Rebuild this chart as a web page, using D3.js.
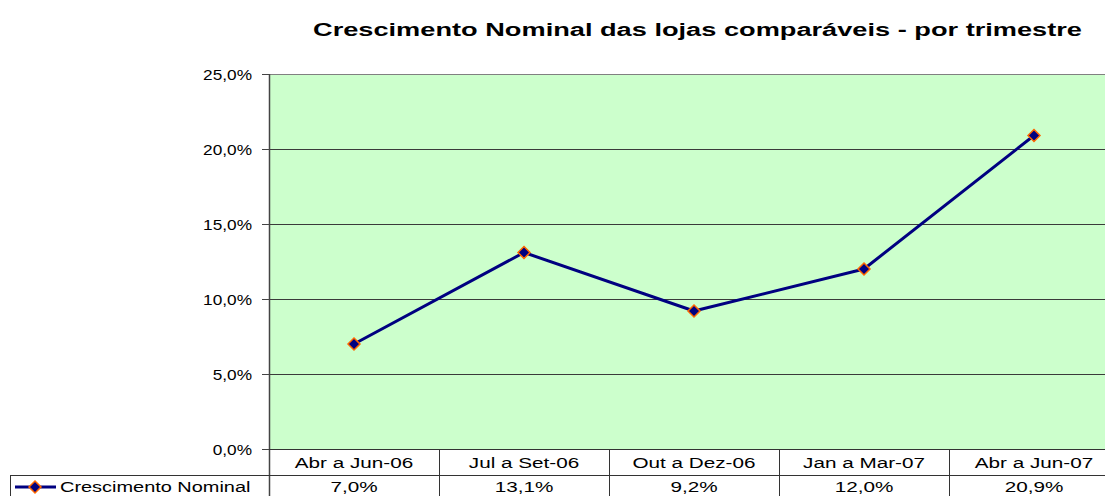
<!DOCTYPE html>
<html>
<head>
<meta charset="utf-8">
<script src="https://cdn.jsdelivr.net/npm/d3@7"></script>
<style>
  body { margin: 0; background: #fff; }
  svg { display: block; font-family: "Liberation Sans", Arial, sans-serif; }
</style>
</head>
<body>
<svg id="chart"></svg>
<script>
// Crescimento nominal das lojas comparáveis, por trimestre

const titleText = "Crescimento Nominal das lojas comparáveis - por trimestre";
const seriesName = "Crescimento Nominal";
const categories = ["Abr a Jun-06", "Jul a Set-06", "Out a Dez-06", "Jan a Mar-07", "Abr a Jun-07"];
const values = [7.0, 13.1, 9.2, 12.0, 20.9];
const yTicks = [0, 5, 10, 15, 20, 25];

const width = 1105;
const height = 496;

const plot = { left: 269, top: 74, bottom: 449, colW: 170 };
const rowMid = 475;   // linha entre categorias e valores

const svg = d3.select("#chart")
  .attr("width", width)
  .attr("height", height);

const x = d3.scaleBand()
  .domain(categories)
  .range([plot.left, plot.left + categories.length * plot.colW])
  .padding(0);

const y = d3.scaleLinear()
  .domain([0, 25])
  .range([plot.bottom, plot.top]);

const pct = function (v) { return d3.format(".1f")(v).replace(".", ",") + "%"; };

// texto esticado na horizontal, como no original
function stretchedText(g, tx, ty, str, k, anchor, size, weight) {
  return g.append("text")
    .attr("transform", "translate(" + tx + "," + ty + ") scale(" + k + ",1)")
    .attr("text-anchor", anchor)
    .attr("font-size", size)
    .attr("font-weight", weight || "normal")
    .attr("fill", "#000")
    .text(str);
}

// fundo da área do gráfico
svg.append("rect")
  .attr("x", plot.left)
  .attr("y", plot.top)
  .attr("width", width - plot.left)
  .attr("height", plot.bottom - plot.top)
  .attr("fill", "#ccffcc");

// linhas de grade
svg.append("g")
  .selectAll("line")
  .data(yTicks.filter(function (d) { return d > 0; }))
  .enter()
  .append("line")
  .attr("x1", plot.left)
  .attr("x2", width)
  .attr("y1", function (d) { return Math.round(y(d)) + 0.5; })
  .attr("y2", function (d) { return Math.round(y(d)) + 0.5; })
  .attr("stroke", function (d) { return d === 25 ? "#808080" : "#3a3a3a"; })
  .attr("stroke-width", 1);

// eixo Y
const yAxis = svg.append("g");
yAxis.append("line")
  .attr("x1", plot.left + 0.5).attr("x2", plot.left + 0.5)
  .attr("y1", plot.top).attr("y2", height)
  .attr("stroke", "#444").attr("stroke-width", 1.5);

yTicks.forEach(function (t) {
  const ty = Math.round(y(t)) + 0.5;
  yAxis.append("line")
    .attr("x1", plot.left - 7).attr("x2", plot.left)
    .attr("y1", ty).attr("y2", ty)
    .attr("stroke", "#444");
  stretchedText(yAxis, plot.left - 17, ty + 5, pct(t), 1.15, "end", 15);
});

// tabela de dados
const table = svg.append("g").attr("stroke", "#333").attr("stroke-width", 1);
table.append("line")
  .attr("x1", plot.left).attr("x2", width)
  .attr("y1", plot.bottom + 0.5).attr("y2", plot.bottom + 0.5);
table.append("line")
  .attr("x1", 10).attr("x2", width)
  .attr("y1", rowMid + 0.5).attr("y2", rowMid + 0.5);
table.append("line")
  .attr("x1", 10.5).attr("x2", 10.5)
  .attr("y1", rowMid).attr("y2", height);
table.selectAll("line.col")
  .data(categories.slice(1))
  .enter()
  .append("line")
  .attr("class", "col")
  .attr("x1", function (d) { return Math.round(x(d)) + 0.5; })
  .attr("x2", function (d) { return Math.round(x(d)) + 0.5; })
  .attr("y1", plot.bottom)
  .attr("y2", height);

const labels = svg.append("g");
categories.forEach(function (c, i) {
  const cx = x(c) + x.bandwidth() / 2;
  stretchedText(labels, cx, 468, c, 1.38, "middle", 15);
  stretchedText(labels, cx, 492, pct(values[i]), 1.38, "middle", 15);
});

// legenda
const diamond = "M0,-6L6,0L0,6L-6,0Z";
const legend = svg.append("g");
legend.append("line")
  .attr("x1", 15).attr("x2", 56)
  .attr("y1", 487).attr("y2", 487)
  .attr("stroke", "#000080").attr("stroke-width", 3);
legend.append("path")
  .attr("d", diamond)
  .attr("transform", "translate(35,487)")
  .attr("fill", "#000080")
  .attr("stroke", "#ff6600")
  .attr("stroke-width", 1.5);
stretchedText(legend, 60, 492, seriesName, 1.33, "start", 15);

// linha da série
const line = d3.line()
  .x(function (d, i) { return x(categories[i]) + x.bandwidth() / 2; })
  .y(function (d) { return y(d); });

svg.append("path")
  .datum(values)
  .attr("d", line)
  .attr("fill", "none")
  .attr("stroke", "#000080")
  .attr("stroke-width", 3)
  .attr("stroke-linejoin", "round");

svg.append("g")
  .selectAll("path.marker")
  .data(values)
  .enter()
  .append("path")
  .attr("class", "marker")
  .attr("d", diamond)
  .attr("transform", function (d, i) {
    return "translate(" + (x(categories[i]) + x.bandwidth() / 2) + "," + y(d) + ")";
  })
  .attr("fill", "#000080")
  .attr("stroke", "#ff6600")
  .attr("stroke-width", 1.5);

// título
svg.append("text")
  .attr("x", 313)
  .attr("y", 36)
  .attr("font-size", 18)
  .attr("font-weight", "bold")
  .attr("textLength", 769)
  .attr("lengthAdjust", "spacingAndGlyphs")
  .text(titleText);
</script>
</body>
</html>
